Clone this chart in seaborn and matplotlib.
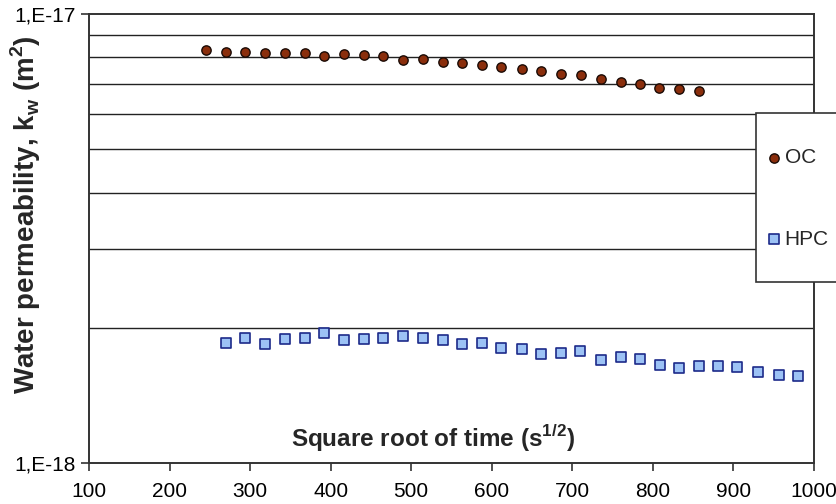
import numpy as np
import pandas as pd
import matplotlib
matplotlib.use("Agg")
import matplotlib.pyplot as plt
import matplotlib.ticker as mticker
import seaborn as sns

# square root of time (s^1/2) and water permeability (m^2)
oc_x = [245, 270, 294, 319, 343, 368, 392, 416, 441, 465, 490, 515, 539, 563,
        588, 612, 637, 661, 686, 711, 735, 760, 784, 808, 833, 857]
oc_k = [8.31, 8.24, 8.24, 8.18, 8.19, 8.18, 8.06, 8.15, 8.09, 8.07, 7.91, 7.95, 7.81, 7.76,
        7.69, 7.61, 7.55, 7.45, 7.35, 7.30, 7.16, 7.06, 6.97, 6.83, 6.79, 6.72]

hpc_x = [270, 294, 319, 343, 368, 392, 416, 441, 465, 490, 515, 539, 563, 588, 612,
         637, 661, 686, 710, 735, 760, 784, 809, 833, 857, 881, 905, 931, 956, 980]
hpc_k = [1.850, 1.898, 1.841, 1.885, 1.898, 1.941, 1.873, 1.885, 1.898, 1.918,
         1.898, 1.873, 1.837, 1.850, 1.799, 1.790, 1.748, 1.760, 1.772, 1.695,
         1.718, 1.701, 1.652, 1.624, 1.641, 1.644, 1.636, 1.591, 1.570, 1.564]

oc = pd.DataFrame({"t": oc_x, "k": np.array(oc_k) * 1e-18})
hpc = pd.DataFrame({"t": hpc_x, "k": np.array(hpc_k) * 1e-18})

sns.set_style("white")
plt.rcParams["font.family"] = ["Liberation Sans", "DejaVu Sans"]

fig = plt.figure(figsize=(8.37, 5.04), dpi=100)
ax = fig.add_axes([0.1063, 0.0819, 0.8662, 0.8903])

ax.set_yscale("log")
ax.set_ylim(1e-18, 1e-17)
ax.set_xlim(100, 1000)

# horizontal grid at 2..9 E-18
ax.yaxis.set_minor_locator(mticker.LogLocator(base=10, subs=np.arange(2, 10)))
ax.yaxis.set_minor_formatter(mticker.NullFormatter())
ax.grid(True, which="minor", axis="y", color="#222222", linewidth=1.0)
ax.grid(False, which="major")
ax.set_axisbelow(True)

sns.scatterplot(data=oc, x="t", y="k", ax=ax, marker="o", s=45,
                color="#8a2e0c", edgecolor="#1a0a05", linewidth=1.0,
                label="OC", zorder=3)
sns.scatterplot(data=hpc, x="t", y="k", ax=ax, marker="s", s=45,
                color="#9cc2f5", edgecolor="#1c2a8a", linewidth=1.2,
                label="HPC", zorder=3)

ax.yaxis.set_major_locator(mticker.FixedLocator([1e-18, 1e-17]))
ax.yaxis.set_major_formatter(mticker.FixedFormatter(["1,E-18", "1,E-17"]))
ax.set_xticks(range(100, 1001, 100))

ax.tick_params(axis="both", which="major", direction="out", length=6, width=1.2,
               color="#333333", labelsize=15, colors="black", bottom=True, left=True)
ax.tick_params(axis="y", which="minor", length=0)
ax.tick_params(axis="x", pad=8)

for sp in ax.spines.values():
    sp.set_color("#333333")
    sp.set_linewidth(1.4)

ax.set_xlabel("")
ax.set_ylabel("Water permeability, k$_\\mathregular{w}$ (m$^\\mathregular{2}$)",
              fontsize=20, fontweight="bold")
ax.yaxis.set_label_coords(-0.064, 0.552)
ax.text(0.474, 0.055, "Square root of time (s$^\\mathregular{1/2}$)",
        transform=ax.transAxes, ha="center", va="center",
        fontsize=17.5, fontweight="bold")

# legend: tall box sticking out past the right edge of the plot
handles, labels = ax.get_legend_handles_labels()
ax.get_legend().remove()
box = plt.Rectangle((756 / 837, 1 - 282 / 504), 90 / 837, 169 / 504,
                    transform=fig.transFigure, facecolor="white",
                    edgecolor="#333333", linewidth=1.2, zorder=4)
fig.add_artist(box)
leg = fig.legend(handles, labels, loc="center left",
                 bbox_to_anchor=(768 / 837, 1 - 198.5 / 504),
                 fontsize=15, frameon=False, borderpad=0, labelspacing=3.0,
                 handletextpad=0.25, handlelength=0.55, borderaxespad=0)
leg.set_zorder(6)

fig.savefig("out.png", dpi=100)
